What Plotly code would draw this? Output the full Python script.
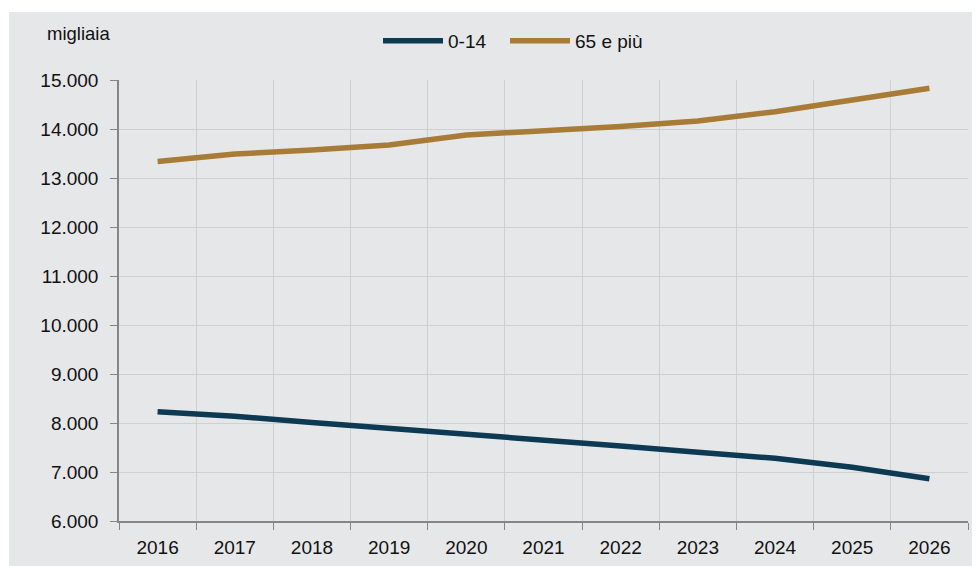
import plotly.graph_objects as go

years = ["2016", "2017", "2018", "2019", "2020", "2021", "2022", "2023", "2024", "2025", "2026"]
age_0_14 = [8231, 8140, 8010, 7895, 7755, 7655, 7530, 7405, 7280, 7096, 6863]
age_65_plus = [13337, 13490, 13570, 13673, 13878, 13959, 14051, 14163, 14353, 14592, 14830]

FONT = "Liberation Sans, Arial"
GRID = "#cfd0d2"
AXIS = "#858585"
BG = "#e6e7e9"

# page body has an 8px offset; figure placed at (8,8)
W, H = 972, 562
L, T, PW, PH = 111, 72, 849, 441

fig = go.Figure()
fig.add_trace(go.Scatter(x=years, y=age_0_14, mode="lines", name="0-14", legendwidth=52,
                         line=dict(color="#0c3a52", width=5.5)))
fig.add_trace(go.Scatter(x=years, y=age_65_plus, mode="lines", name="65 e più", legendwidth=90,
                         line=dict(color="#a87c36", width=5.5)))

fig.add_shape(type="rect", xref="paper", yref="paper", layer="below",
              x0=(1 - L) / PW, x1=(990 - L) / PW, y0=-0.3, y1=(T + PH - 4) / PH,
              fillcolor=BG, line=dict(width=0))

fig.add_annotation(text="migliaia", xref="paper", yref="paper",
                   x=(37 - L) / PW, y=(T + PH - 26) / PH, xanchor="left", yanchor="middle",
                   showarrow=False, font=dict(family=FONT, size=18.5, color="#111111"))

fig.update_layout(
    width=W, height=H,
    margin=dict(l=L, r=W - L - PW, t=T, b=H - T - PH, autoexpand=False),
    paper_bgcolor="white", plot_bgcolor=BG,
    separators=",.",
    font=dict(family=FONT, size=19, color="#111111"),
    showlegend=True,
    legend=dict(orientation="h", x=(370 - L) / PW, y=(T + PH - 33) / PH,
                xanchor="left", yanchor="middle", bgcolor="rgba(0,0,0,0)",
                itemwidth=60, entrywidthmode="pixels",
                font=dict(family=FONT, size=19), tracegroupgap=0),
    xaxis=dict(type="category", tickson="boundaries", showgrid=True, gridcolor=GRID,
               gridwidth=1, showline=True, linecolor=AXIS, linewidth=1.5,
               ticks="outside", ticklen=7, tickcolor=AXIS, range=[-0.5, 10.5],
               ticklabelstandoff=8, zeroline=False, automargin=False),
    yaxis=dict(range=[6000, 15000], dtick=1000, tickformat=",d", showgrid=True,
               gridcolor=GRID, gridwidth=1, showline=True, linecolor=AXIS, linewidth=1.5,
               ticks="outside", ticklen=7, tickcolor=AXIS, zeroline=False,
               ticklabelstandoff=8, automargin=False),
)

fig.write_html("out.html")
